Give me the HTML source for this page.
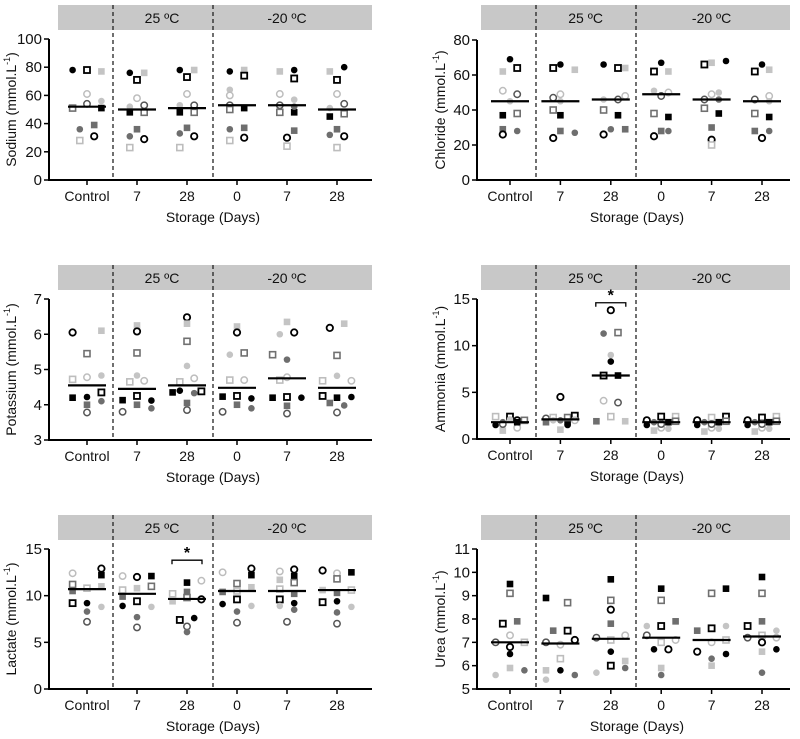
<!DOCTYPE html>
<html><head><meta charset="utf-8"><style>
html,body{margin:0;padding:0;background:#fff;}
svg{display:block;font-family:"Liberation Sans",Arial,sans-serif;}
</style></head><body>
<svg id="fig" width="800" height="739" viewBox="0 0 800 739" xmlns="http://www.w3.org/2000/svg"></svg>
<script>
const categories=["Control","7","28","0","7","28"];
const sodiumTicks=[0,20,40,60,80,100];
const sodiumVals=[[78,78,77,61,56,54,51,51,36,39,28,31],[76,76,71,58,52,53,48,48,31,36,29,23],[78,78,73,61,53,53,48,48,33,37,31,23],[77,78,74,64,60,53,50,51,36,37,30,28],[77,78,72,61,57,53,48,48,35,24,30,52],[77,80,71,61,54,51,45,47,32,36,31,23]];
const sodiumSty=[["A","D","K","J","I","H","G","C","E","F","L","B"],["A","K","D","J","I","H","C","G","E","F","B","L"],["A","K","D","J","I","H","C","G","E","F","B","L"],["A","K","D","I","J","H","G","C","E","F","B","L"],["K","A","D","J","I","H","G","C","F","L","B","E"],["K","A","D","J","H","I","C","G","E","F","B","L"]];
const sodiumSlot=[[-2,0,2,0,2,0,-2,2,-1,1,-1,1],[-1,1,0,0,-1,1,-1,1,-1,0,1,-1],[-1,1,0,0,-1,1,-1,1,-1,0,1,-1],[-1,1,1,-1,-1,-1,-1,1,-1,1,1,-1],[-1,1,1,-1,1,-1,-1,1,1,0,0,1],[-1,1,0,0,1,-1,-1,1,-1,0,1,0]];
const sodiumMean=[52,50,51,53,53,50];

const chlorideTicks=[0,20,40,60,80];
const chlorideVals=[[69,64,62,51,49,45,38,37,29,28,26],[64,66,63,47,49,45,40,37,28,27,24],[66,64,64,46,46,48,40,37,29,29,26],[67,62,62,51,48,50,38,36,28,28,25],[66,67,68,49,50,46,46,41,38,30,23,20],[66,62,63,46,48,45,38,36,28,28,24]];
const chlorideSty=[["A","D","K","J","H","I","G","C","F","E","B"],["D","A","K","H","J","I","G","C","F","E","B"],["A","D","K","I","H","J","G","C","E","F","B"],["A","D","K","I","H","J","G","C","F","E","B"],["D","K","A","J","I","H","E","G","C","F","B","L"],["A","D","K","H","J","I","G","C","F","E","B"]];
const chlorideSlot=[[0,1,-1,-1,1,0,1,-1,-1,1,-1],[-1,0,2,-1,0,0,-1,0,0,2,-1],[-1,1,2,-1,1,2,-1,1,0,2,-1],[0,-1,1,-1,0,1,-1,1,0,1,-1],[-1,0,2,0,1,-1,1,-1,1,0,0,0],[0,-1,1,-1,1,1,-1,1,-1,1,0]];
const chlorideMean=[45,45,46,49,46,45];

const potassiumTicks=[3,4,5,6,7];
const potassiumVals=[[6.05,6.1,5.45,4.72,4.78,4.83,4.35,4.2,4.22,4.0,4.1,3.78],[6.25,6.08,5.47,4.65,4.83,4.68,4.25,4.13,4.12,4.0,3.9,3.8],[6.48,6.3,5.8,5.1,4.65,4.75,4.35,4.4,4.33,4.38,4.05,3.85],[6.22,6.05,5.42,5.47,4.7,4.7,4.23,4.25,4.18,4.0,3.9,3.8],[6.35,6.0,6.05,5.42,5.28,4.7,4.78,4.2,4.22,4.2,3.97,3.75],[6.18,6.3,5.4,4.68,4.82,4.68,4.25,4.2,4.22,4.05,3.98,3.78]];
const potassiumSty=[["B","K","G","L","J","I","D","C","A","F","E","H"],["K","B","G","L","I","J","D","C","A","F","E","H"],["B","K","G","I","L","J","C","A","E","D","F","H"],["K","B","I","G","L","J","C","D","A","F","E","H"],["K","I","B","G","E","L","J","C","D","A","F","H"],["B","K","G","L","I","J","D","C","A","F","E","H"]];
const potassiumSlot=[[-2,2,0,-2,0,2,2,-2,0,0,2,0],[0,0,0,-1,0,1,0,-2,2,0,2,-2],[0,0,0,0,-1,1,-2,-1,1,2,0,0],[0,0,-1,1,-1,1,-2,0,2,0,2,-2],[0,-1,1,-2,0,-1,0,-2,0,2,0,0],[-1,1,0,-2,0,2,-2,0,2,-1,1,0]];
const potassiumMean=[4.55,4.45,4.55,4.48,4.75,4.48];

const ammoniaTicks=[0,5,10,15];
const ammoniaVals=[[2.4,1.5,1.8,0.9,2.4,2.1,1.2,2.0,1.8,2.0,1.6],[2.2,1.8,2.3,2.0,1.0,4.5,1.8,1.5,2.3,2.5,2.0,2.0],[13.8,11.3,11.4,9.0,8.3,6.8,6.8,4.1,3.9,1.9,2.4,1.9],[2.0,1.5,1.8,0.9,2.4,1.2,1.1,1.8,1.6,2.4,1.9],[2.0,1.5,1.8,0.8,2.3,1.2,1.1,1.8,1.6,2.4,1.9],[2.0,1.5,1.8,0.8,2.3,1.2,1.1,1.8,1.6,2.4,1.9]];
const ammoniaSty=[["L","A","E","K","D","I","J","B","C","G","H"],["H","F","L","I","K","B","C","A","G","D","J","E"],["B","E","G","I","A","D","C","J","H","F","L","K"],["B","A","E","K","D","J","I","C","H","L","G"],["B","A","E","K","L","J","I","C","H","D","G"],["B","A","E","K","D","J","I","C","H","L","G"]];
const ammoniaSlot=[[-2,-2,-1,-1,0,0,1,1,1,2,-1],[-2,-2,-1,-1,0,0,1,1,1,2,2,0],[0,-1,1,0,0,-1,1,-1,1,-2,0,2],[-2,-2,-1,-1,0,0,1,1,0,2,2],[-2,-2,-1,-1,0,0,1,1,0,2,2],[-2,-2,-1,-1,0,0,1,1,0,2,2]];
const ammoniaMean=[1.8,2.1,6.8,1.8,1.8,1.8];

const lactateTicks=[0,5,10,15];
const lactateVals=[[12.4,11.2,10.5,9.2,10.8,9.2,8.3,7.2,12.9,12.2,11.0,8.8],[12.1,10.6,9.9,8.9,10.8,12.0,9.4,7.7,6.6,12.1,11.0,8.8],[10.2,9.4,11.4,10.4,9.8,7.4,6.7,6.1,7.6,11.6,9.6],[12.5,10.4,9.1,11.3,10.5,9.6,8.3,7.1,12.9,12.2,10.9,8.9],[12.6,11.7,10.7,9.6,8.9,12.8,12.1,11.4,10.2,9.2,8.5,7.2],[12.7,10.6,9.3,12.4,11.8,10.3,9.4,8.2,7.0,12.5,10.6,8.8]];
const lactateSty=[["J","G","F","D","L","A","E","H","B","C","K","I"],["J","L","F","A","K","B","D","E","H","C","G","I"],["L","K","C","F","G","D","H","E","A","J","B"],["J","F","A","G","L","D","E","H","B","C","K","I"],["J","K","L","D","I","B","C","G","F","A","E","H"],["B","K","D","J","G","F","A","E","H","C","L","I"]];
const lactateSlot=[[-2,-2,-2,-2,0,0,0,0,2,2,2,2],[-2,-2,-2,-2,0,0,0,0,0,2,2,2],[-2,-2,0,0,0,-1,0,0,1,2,2],[-2,-2,-2,0,0,0,0,0,2,2,2,2],[-1,-1,-1,-1,-1,1,1,1,1,1,1,0],[-2,-2,-2,0,0,0,0,0,0,2,2,2]];
const lactateMean=[10.7,10.2,9.65,10.5,10.5,10.6];

const ureaTicks=[5,6,7,8,9,10,11];
const ureaVals=[[7.0,5.6,9.5,9.1,7.8,7.3,6.8,6.5,5.9,7.9,7.0,5.8],[8.9,7.0,5.8,5.4,7.5,8.7,7.5,6.9,6.3,5.8,7.1,5.6],[7.2,5.7,9.7,8.8,8.4,7.8,7.1,6.6,6.0,7.3,6.2,5.9],[7.7,7.3,9.3,8.8,7.7,7.0,5.9,5.6,6.7,6.7,7.9,7.1],[7.5,6.6,7.6,9.1,7.0,6.3,6.0,9.3,7.7,7.1,6.5],[7.7,7.2,9.8,9.1,7.9,7.3,7.0,6.6,5.7,7.5,7.2,6.7]];
const ureaSty=[["H","I","C","G","D","J","B","A","K","F","L","E"],["C","H","K","I","F","G","D","J","L","A","B","E"],["H","I","C","G","B","F","L","A","D","J","K","E"],["I","H","C","G","D","L","K","E","A","B","F","J"],["F","B","D","G","J","E","K","C","I","L","A"],["D","H","C","G","F","L","B","K","E","I","J","A"]];
const ureaSlot=[[-2,-2,0,0,-1,0,0,0,0,1,2,2],[-2,-2,-2,-2,-1,1,1,0,0,0,2,2],[-2,-2,0,0,0,0,0,0,0,2,2,2],[-2,-2,0,0,0,0,0,0,-1,1,2,2],[-2,-2,0,0,0,0,0,2,2,2,2],[-2,-2,0,0,0,0,0,0,0,2,2,2]];
const ureaMean=[7.0,6.95,7.15,7.2,7.1,7.25];

const NS="http://www.w3.org/2000/svg";
const svg=document.getElementById("fig");
function mk(tag,attrs,parent){const e=document.createElementNS(NS,tag);for(const k in attrs)e.setAttribute(k,attrs[k]);(parent||svg).appendChild(e);return e;}
const STY={A:["c","#000","#000",0],B:["c","#fff","#000",1.8],C:["s","#000","#000",0],D:["s","#fff","#000",1.8],E:["c","#6e6e6e","#6e6e6e",0],F:["s","#6e6e6e","#6e6e6e",0],G:["s","#fff","#707070",1.6],H:["c","#fff","#555",1.5],I:["c","#c4c4c4","#c4c4c4",0],J:["c","#fff","#bdbdbd",1.5],K:["s","#c4c4c4","#c4c4c4",0],L:["s","#fff","#bdbdbd",1.6]};

function panel(o){
  const g=mk("g",{});
  
  
  const ax=o.ax, x0=o.cx0, dx=o.dx, top=o.top, bot=o.bot;
  const yS=v=>bot-(v-o.min)/(o.max-o.min)*(bot-top);
  const xS=i=>x0+dx*i;
  const hdr=mk("rect",{x:o.hx0,y:o.hy,width:o.hx1-o.hx0,height:25,fill:"#c8c8c8"},g);
  
  
  [["25 ºC",(xS(1)+xS(2))/2],["-20 ºC",xS(4)]].forEach(t=>{
    const tx=mk("text",{x:t[1],y:o.hy+18,"text-anchor":"middle","font-size":"14",fill:"#111"},g);tx.textContent=t[0];
    
    
  });
  [o.d1,o.d2].forEach(d=>{
    const l=mk("line",{x1:d,x2:d,y1:o.hy,y2:bot,stroke:"#222","stroke-width":1.3,"stroke-dasharray":"4,3"},g);
    
    
  });
  const ya=mk("line",{x1:ax,x2:ax,y1:top,y2:bot+1,stroke:"#000","stroke-width":2},g);
  
  
  const xa=mk("line",{x1:ax-1,x2:o.xend,y1:bot,y2:bot,stroke:"#000","stroke-width":2},g);
  
  
  o.ticks.forEach(t=>{
    mk("line",{x1:ax-5,x2:ax,y1:yS(t),y2:yS(t),stroke:"#000","stroke-width":1.5},g);
    const tl=mk("text",{x:ax-7,y:yS(t)+5,"text-anchor":"end","font-size":"15",fill:"#111"},g);tl.textContent=t;
    
    
  });
  categories.forEach((c,i)=>{
    mk("line",{x1:xS(i),x2:xS(i),y1:bot,y2:bot+5,stroke:"#000","stroke-width":1.5},g);
    const cl=mk("text",{x:xS(i),y:bot+21,"text-anchor":"middle","font-size":"14",fill:"#111"},g);cl.textContent=c;
    
    
  });
  const xt=mk("text",{x:(xS(0)+xS(5))/2+1,y:bot+42,"text-anchor":"middle","font-size":"14",fill:"#111"},g);xt.textContent="Storage (Days)";
  
  
  const yl=mk("text",{x:0,y:0,"text-anchor":"middle","font-size":"14",fill:"#111",transform:`translate(${o.ylx},${(top+bot)/2}) rotate(-90)`},g);
  
  
  yl.appendChild(document.createTextNode(o.label+" (mmol.L"));
  const sp=mk("tspan",{"font-size":"9",dy:"-6"},yl);sp.textContent="-1";
  const sp2=mk("tspan",{dy:"6"},yl);sp2.textContent=")";
  o.vals.forEach((grp,i)=>{
    grp.forEach((v,j)=>{
      const s=STY[o.sty[i][j]];const px=xS(i)+o.slot[i][j]*7.2, py=yS(v);
      let m;
      if(s[0]==="c") m=mk("circle",{cx:px,cy:py,r:s[3]?3.2:3.3,fill:s[1],stroke:s[2],"stroke-width":s[3]||0},g);
      else {const h=s[3]?3:3.3;m=mk("rect",{x:px-h,y:py-h,width:2*h,height:2*h,fill:s[1],stroke:s[2],"stroke-width":s[3]||0},g);}
      
      
    });
    const ml=mk("line",{x1:xS(i)-19,x2:xS(i)+19,y1:yS(o.mean[i]),y2:yS(o.mean[i]),stroke:"#000","stroke-width":2.2},g);
    
    
  });
  if(o.star!==undefined){
    const sy=yS(o.star), xa1=xS(2)-15, xb=xS(2)+15;
    const br=mk("path",{d:`M${xa1},${sy+4}V${sy}H${xb}V${sy+4}`,fill:"none",stroke:"#000","stroke-width":1.3},g);
    
    
    const st=mk("text",{x:xS(2),y:sy-2,"text-anchor":"middle","font-size":"16","font-weight":"bold"},g);st.textContent="*";
    
    
  }
}
const L={ax:49,cx0:87,dx:50,d1:113,d2:213,xend:372,hx0:58,hx1:372,ylx:16};
const R={ax:477,cx0:510,dx:50.4,d1:536,d2:636,xend:790,hx0:481,hx1:790,ylx:445};
panel(Object.assign({},L,{name:"sodium",label:"Sodium",hy:5,top:39,bot:180,min:0,max:100,ticks:sodiumTicks,vals:sodiumVals,sty:sodiumSty,slot:sodiumSlot,mean:sodiumMean}));
panel(Object.assign({},R,{name:"chloride",label:"Chloride",hy:5,top:40,bot:180,min:0,max:80,ticks:chlorideTicks,vals:chlorideVals,sty:chlorideSty,slot:chlorideSlot,mean:chlorideMean}));
panel(Object.assign({},L,{name:"potassium",label:"Potassium",hy:265,top:299,bot:440,min:3,max:7,ticks:potassiumTicks,vals:potassiumVals,sty:potassiumSty,slot:potassiumSlot,mean:potassiumMean}));
panel(Object.assign({},R,{name:"ammonia",label:"Ammonia",hy:265,top:299,bot:439,min:0,max:15,ticks:ammoniaTicks,vals:ammoniaVals,sty:ammoniaSty,slot:ammoniaSlot,mean:ammoniaMean,star:14.6}));
panel(Object.assign({},L,{name:"lactate",label:"Lactate",hy:515,top:549,bot:689,min:0,max:15,ticks:lactateTicks,vals:lactateVals,sty:lactateSty,slot:lactateSlot,mean:lactateMean,star:13.8}));
panel(Object.assign({},R,{name:"urea",label:"Urea",hy:515,top:549,bot:689,min:5,max:11,ticks:ureaTicks,vals:ureaVals,sty:ureaSty,slot:ureaSlot,mean:ureaMean}));
</script>
</body></html>
